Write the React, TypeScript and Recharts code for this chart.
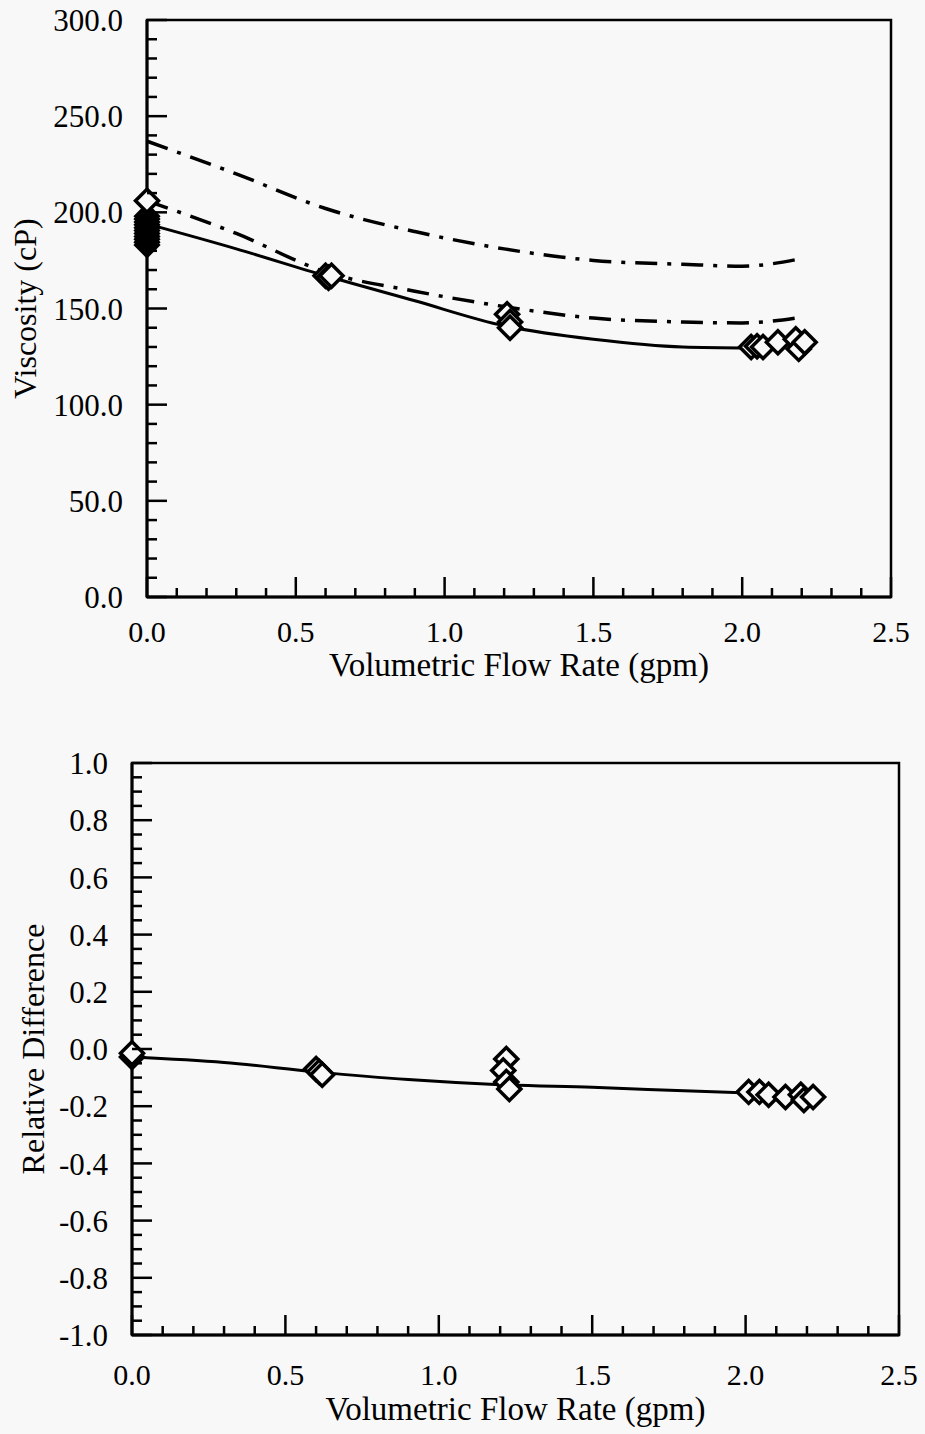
import React from 'react';
import { ComposedChart, Line, Scatter, XAxis, YAxis, ReferenceArea, Label } from 'recharts';

// axis ticks
const flowTicks = [0, 0.1, 0.2, 0.3, 0.4, 0.5, 0.6, 0.7, 0.8, 0.9, 1, 1.1, 1.2, 1.3, 1.4, 1.5, 1.6, 1.7, 1.8, 1.9, 2, 2.1, 2.2, 2.3, 2.4, 2.5];
const flowMajor = [0, 0.5, 1, 1.5, 2, 2.5];
const viscTicks = [0, 10, 20, 30, 40, 50, 60, 70, 80, 90, 100, 110, 120, 130, 140, 150, 160, 170, 180, 190, 200, 210, 220, 230, 240, 250, 260, 270, 280, 290, 300];
const viscMajor = [0, 50, 100, 150, 200, 250, 300];
const diffTicks = [-1, -0.95, -0.9, -0.85, -0.8, -0.75, -0.7, -0.65, -0.6, -0.55, -0.5, -0.45, -0.4, -0.35, -0.3, -0.25, -0.2, -0.15, -0.1, -0.05, 0, 0.05, 0.1, 0.15, 0.2, 0.25, 0.3, 0.35, 0.4, 0.45, 0.5, 0.55, 0.6, 0.65, 0.7, 0.75, 0.8, 0.85, 0.9, 0.95, 1];
const diffMajor = [-1, -0.8, -0.6, -0.4, -0.2, 0, 0.2, 0.4, 0.6, 0.8, 1];

// top panel: curves
const fitFlow = [0, 0.3, 0.6, 0.9, 1.2, 1.5, 1.8, 2.03];
const fitViscosity = [194, 181, 167, 154, 141, 134, 130, 129.5];
const upperFlow = [0, 0.3, 0.6, 0.9, 1.2, 1.5, 1.8, 2.0, 2.2];
const upperViscosity = [237, 220, 202, 190, 181, 175, 173, 172, 176];
const lowerFlow = [0, 0.3, 0.6, 0.9, 1.2, 1.5, 1.8, 2.0, 2.2];
const lowerViscosity = [206, 189, 169, 159, 151, 145, 143, 142.5, 145.5];

// top panel: measurements (dense stack at zero flow reads as a solid blob)
const stackFlow = [0, 0, 0, 0, 0, 0, 0, 0, 0, 0, 0];
const stackViscosity = [183, 184.5, 186, 187.5, 189, 190.5, 192, 193.5, 195, 196.5, 198];
const measFlow = [0, 0.6, 0.61, 0.62, 1.21, 1.22, 1.22, 2.03, 2.05, 2.07, 2.12, 2.18, 2.19, 2.21];
const measViscosity = [206, 167, 166, 167, 147, 143, 140, 130, 130.4, 130, 132.5, 134, 129, 132.5];

// bottom panel
const diffLineFlow = [0, 0.3, 0.6, 0.9, 1.2, 1.5, 1.8, 2.01];
const diffLineValue = [-0.028, -0.047, -0.08, -0.107, -0.125, -0.134, -0.146, -0.154];
const diffFlow = [0, 0, 0.6, 0.61, 0.62, 1.22, 1.21, 1.22, 1.23, 2.01, 2.045, 2.075, 2.13, 2.18, 2.19, 2.22];
const diffValue = [-0.028, -0.015, -0.07, -0.08, -0.09, -0.035, -0.075, -0.115, -0.14, -0.15, -0.15, -0.16, -0.168, -0.16, -0.178, -0.168];

const FONT = '"Liberation Serif", "Times New Roman", serif';
const BG = '#f8f8f8';
const Y_MARGIN = 24;

const pts = (xs: number[], ys: number[]) => xs.map((x, i) => ({ x, y: ys[i] }));
const isMajor = (v: number, majors: number[]) => majors.some(m => Math.abs(m - v) < 1e-6);

const makeYTick = (majors: number[], digits: number) => (props: any) => {
    const { x, y, payload } = props;
    const axisX = x + Y_MARGIN;
    const major = isMajor(payload.value, majors);
    return (
        <g>
            <line x1={axisX} x2={axisX + (major ? 20 : 10)} y1={y} y2={y} stroke="#000" strokeWidth={2.5} />
            {major && (
                <text x={x} y={y} dy="0.36em" textAnchor="end" fontFamily={FONT} fontSize={31} fill="#000">
                    {payload.value.toFixed(digits)}
                </text>
            )}
        </g>
    );
};

const makeXTick = (labelDrop: number) => (props: any) => {
    const { x, y, payload } = props;
    const major = isMajor(payload.value, flowMajor);
    return (
        <g>
            <line x1={x} x2={x} y1={y} y2={y - (major ? 20 : 9)} stroke="#000" strokeWidth={2.5} />
            {major && (
                <text x={x} y={y + labelDrop} textAnchor="middle" fontFamily={FONT} fontSize={30} fill="#000">
                    {payload.value.toFixed(1)}
                </text>
            )}
        </g>
    );
};

const diamondPoints = (cx: number, cy: number, r: number) =>
    `${cx},${cy - r} ${cx + r},${cy} ${cx},${cy + r} ${cx - r},${cy}`;

const Diamond = (props: any) => {
    const { cx, cy } = props;
    if (cx == null || cy == null) return null;
    return <polygon points={diamondPoints(cx, cy, 11.5)} fill={BG} stroke="#000" strokeWidth={3.5} />;
};

const SolidDiamond = (props: any) => {
    const { cx, cy } = props;
    if (cx == null || cy == null) return null;
    return <polygon points={diamondPoints(cx, cy, 11.5)} fill="#000" stroke="#000" strokeWidth={3} />;
};

const dashDot = "22 10 4 10";
const titleStyle = { fontFamily: FONT, fontSize: 33, fill: '#000' };

export default function App() {
    return (
        <div style={{ position: 'absolute', left: 0, top: 0, width: 925, height: 1434, background: BG }}>
            <div style={{ position: 'absolute', left: 0, top: 0 }}>
                <ComposedChart width={925} height={700} margin={{ top: 20, right: 34, bottom: 0, left: 0 }}>
                    <XAxis
                        dataKey="x"
                        type="number"
                        domain={[0, 2.5]}
                        ticks={flowTicks}
                        interval={0}
                        height={103}
                        tickSize={0}
                        tickMargin={0}
                        tickLine={false}
                        tick={makeXTick(45)}
                        axisLine={{ stroke: '#000', strokeWidth: 3 }}
                    >
                        <Label value="Volumetric Flow Rate (gpm)" position="insideTop" offset={56} style={titleStyle} />
                    </XAxis>
                    <YAxis
                        type="number"
                        domain={[0, 300]}
                        ticks={viscTicks}
                        interval={0}
                        width={147}
                        tickSize={0}
                        tickMargin={Y_MARGIN}
                        tickLine={false}
                        tick={makeYTick(viscMajor, 1)}
                        axisLine={{ stroke: '#000', strokeWidth: 3 }}
                    >
                        <Label value="Viscosity (cP)" angle={-90} position="insideLeft" offset={25}
                            style={{ ...titleStyle, fontSize: 32, textAnchor: 'middle' }} />
                    </YAxis>
                    <ReferenceArea x1={0} x2={2.5} y1={0} y2={300} fill="none" stroke="#000" strokeWidth={2.5} />
                    <Line data={pts(upperFlow, upperViscosity)} dataKey="y" type="monotone" stroke="#000" strokeWidth={3.5}
                        strokeDasharray={dashDot} dot={false} isAnimationActive={false} />
                    <Line data={pts(lowerFlow, lowerViscosity)} dataKey="y" type="monotone" stroke="#000" strokeWidth={3.5}
                        strokeDasharray={dashDot} dot={false} isAnimationActive={false} />
                    <Line data={pts(fitFlow, fitViscosity)} dataKey="y" type="monotone" stroke="#000" strokeWidth={3}
                        dot={false} isAnimationActive={false} />
                    <Scatter data={pts(stackFlow, stackViscosity)} dataKey="y" shape={SolidDiamond} isAnimationActive={false} />
                    <Scatter data={pts(measFlow, measViscosity)} dataKey="y" shape={Diamond} isAnimationActive={false} />
                </ComposedChart>
            </div>
            <div style={{ position: 'absolute', left: 0, top: 740 }}>
                <ComposedChart width={925} height={694} margin={{ top: 23, right: 26, bottom: 0, left: 0 }}>
                    <XAxis
                        dataKey="x"
                        type="number"
                        domain={[0, 2.5]}
                        ticks={flowTicks}
                        interval={0}
                        height={99}
                        tickSize={0}
                        tickMargin={0}
                        tickLine={false}
                        tick={makeXTick(50)}
                        axisLine={{ stroke: '#000', strokeWidth: 3 }}
                    >
                        <Label value="Volumetric Flow Rate (gpm)" position="insideTop" offset={62} style={titleStyle} />
                    </XAxis>
                    <YAxis
                        type="number"
                        domain={[-1, 1]}
                        ticks={diffTicks}
                        interval={0}
                        width={132}
                        tickSize={0}
                        tickMargin={Y_MARGIN}
                        tickLine={false}
                        tick={makeYTick(diffMajor, 1)}
                        axisLine={{ stroke: '#000', strokeWidth: 3 }}
                    >
                        <Label value="Relative Difference" angle={-90} position="insideLeft" offset={33}
                            style={{ ...titleStyle, fontSize: 32, textAnchor: 'middle' }} />
                    </YAxis>
                    <ReferenceArea x1={0} x2={2.5} y1={-1} y2={1} fill="none" stroke="#000" strokeWidth={2.5} />
                    <Line data={pts(diffLineFlow, diffLineValue)} dataKey="y" type="monotone" stroke="#000" strokeWidth={3}
                        dot={false} isAnimationActive={false} />
                    <Scatter data={pts(diffFlow, diffValue)} dataKey="y" shape={Diamond} isAnimationActive={false} />
                </ComposedChart>
            </div>
        </div>
    );
}
